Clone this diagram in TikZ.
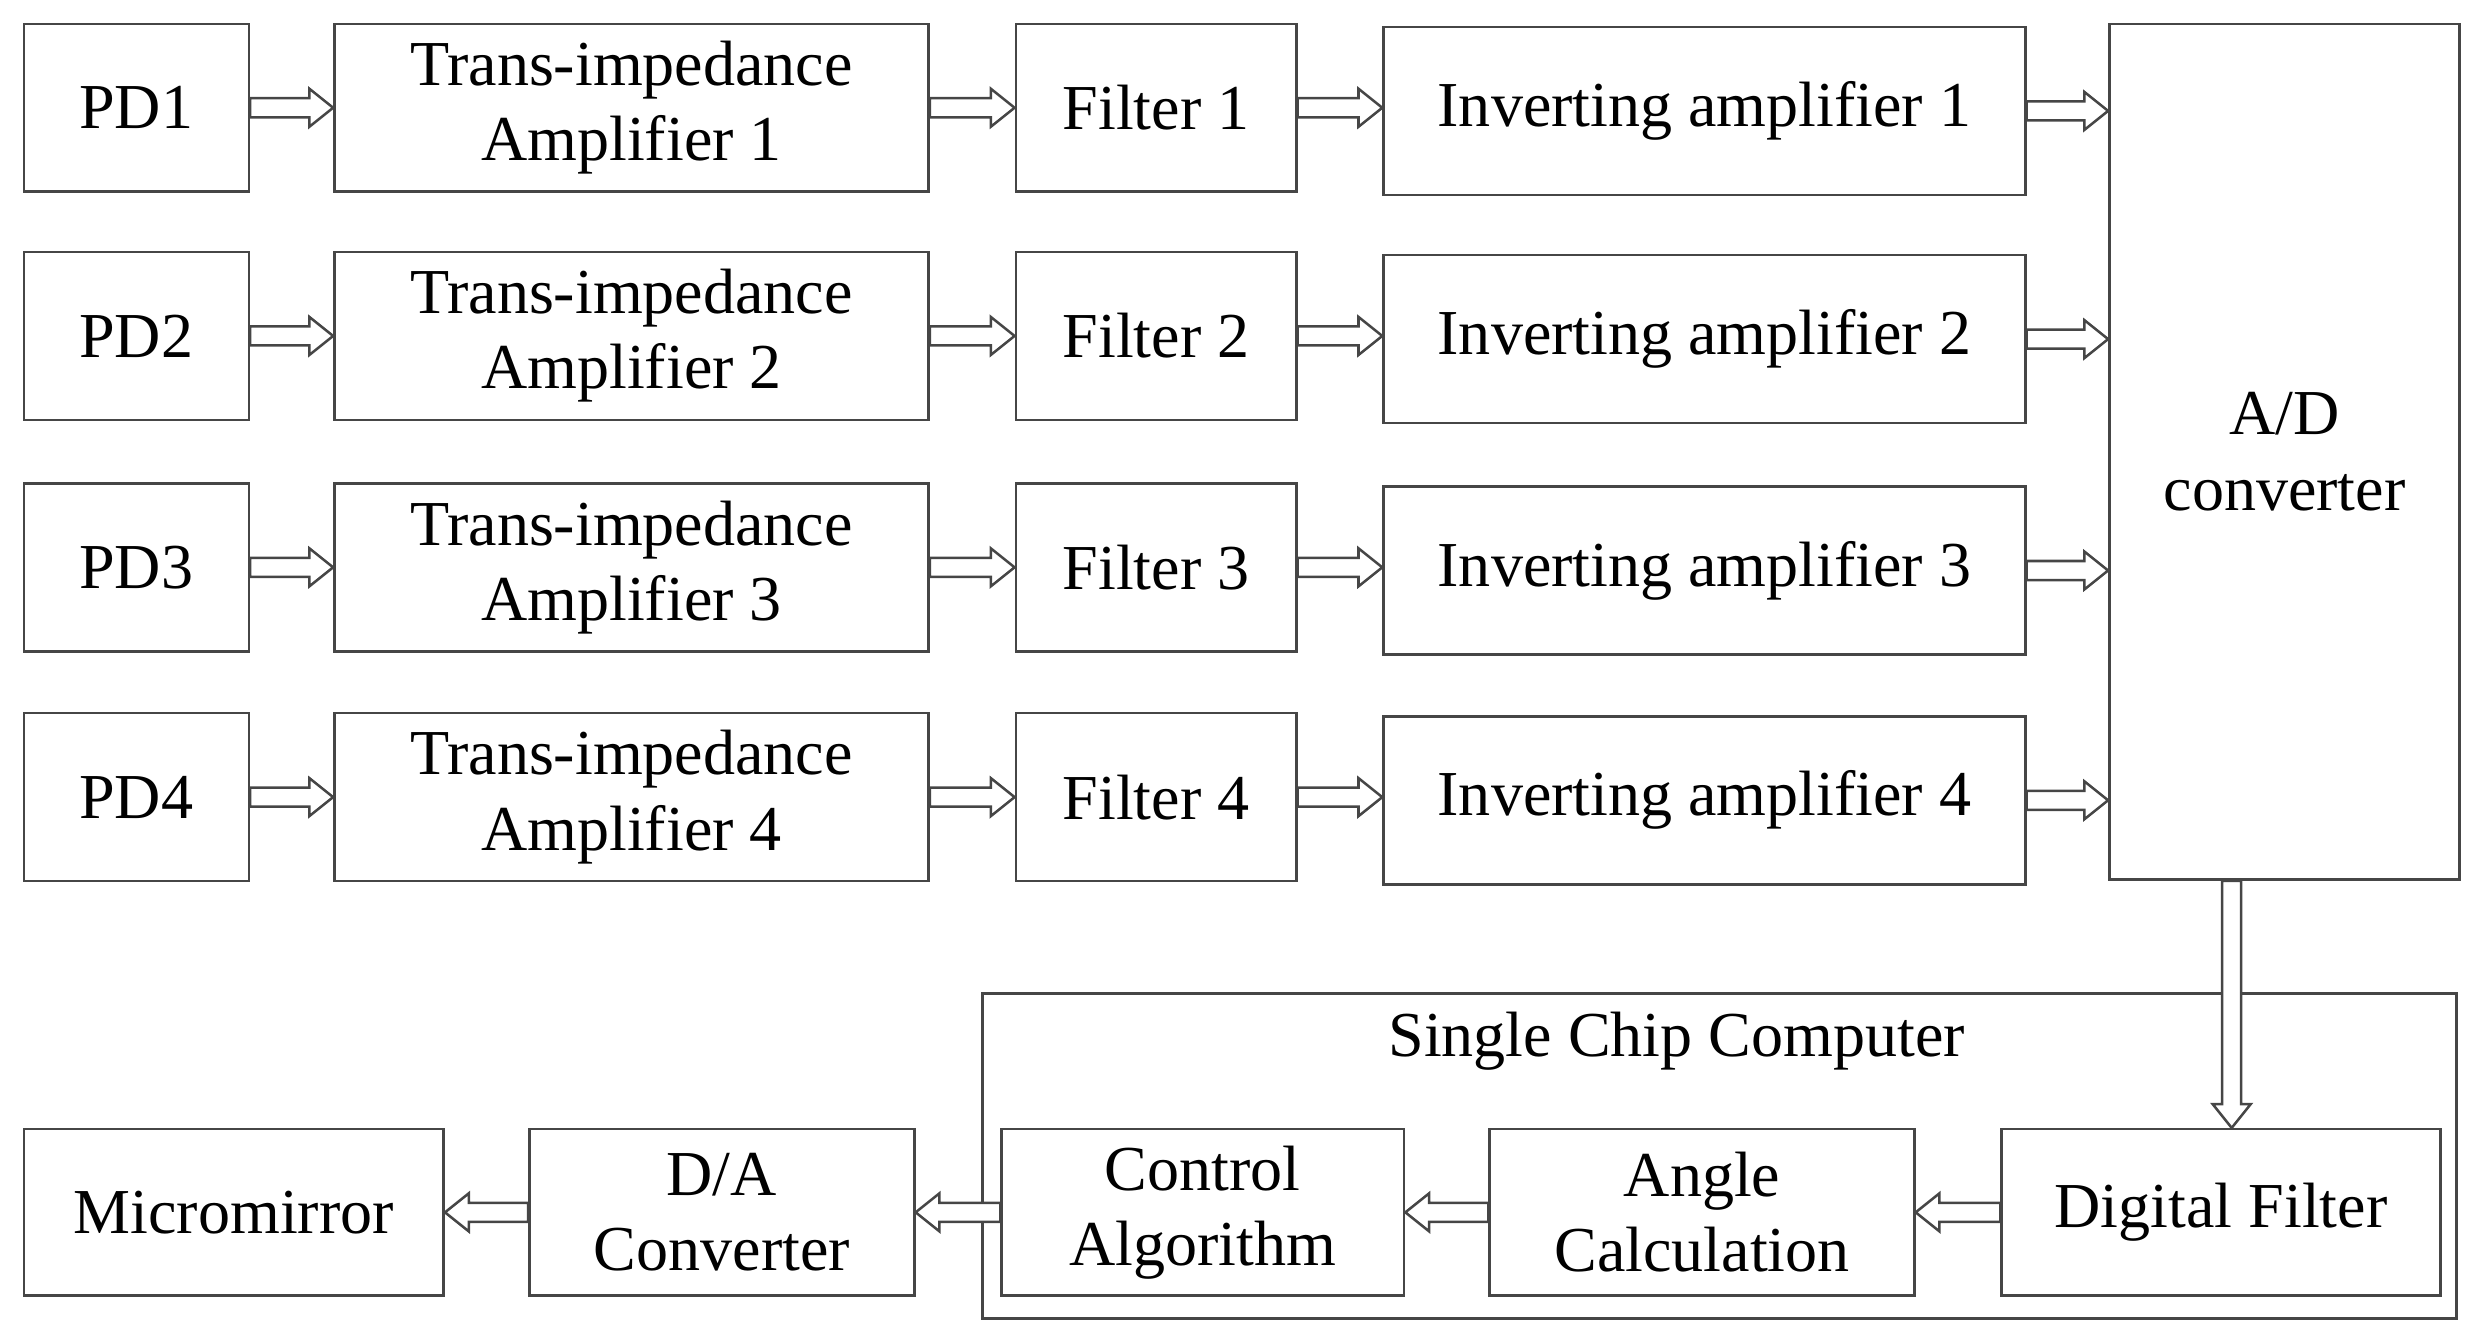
\documentclass[tikz,border=0pt]{standalone}
\usepackage{fontspec}
\setmainfont{Liberation Serif}
\usetikzlibrary{calc}
\definecolor{ln}{RGB}{70,70,70}
\newcommand\arR[2]{\draw[arr] let \p1=(#1),\p2=(#2) in (\x1,\y1+0.6mm) -- (\x2-1.5mm,\y1+0.6mm) -- (\x2-1.5mm,\y1+1.2mm) -- (\x2,\y1) -- (\x2-1.5mm,\y1-1.2mm) -- (\x2-1.5mm,\y1-0.6mm) -- (\x1,\y1-0.6mm) -- cycle;}
\newcommand\arL[2]{\draw[arr] let \p1=(#1),\p2=(#2) in (\x1,\y1+0.6mm) -- (\x2+1.5mm,\y1+0.6mm) -- (\x2+1.5mm,\y1+1.2mm) -- (\x2,\y1) -- (\x2+1.5mm,\y1-1.2mm) -- (\x2+1.5mm,\y1-0.6mm) -- (\x1,\y1-0.6mm) -- cycle;}
\newcommand\arD[2]{\draw[arr] let \p1=(#1),\p2=(#2) in (\x1+0.6mm,\y1) -- (\x1+0.6mm,\y2+1.5mm) -- (\x1+1.2mm,\y2+1.5mm) -- (\x1,\y2) -- (\x1-1.2mm,\y2+1.5mm) -- (\x1-0.6mm,\y2+1.5mm) -- (\x1-0.6mm,\y1) -- cycle;}
\begin{document}
\begin{tikzpicture}[x=0.1mm,y=-0.1mm,
  box/.style={draw=ln,line width=0.45pt,inner sep=0pt,align=center,font=\fontsize{11.5}{13.5}\selectfont},
  arr/.style={draw=ln,line width=0.45pt,fill=white}]
\useasboundingbox (0,0) rectangle (1563,843);
\foreach \i/\y in {1/68,2/212,3/358,4/503}{
  \node[box,minimum width=142*0.1mm,minimum height=106*0.1mm] (pd\i) at (86,\y) {PD\i};
  \node[box,minimum width=375*0.1mm,minimum height=106*0.1mm] (tia\i) at (398.5,\y) {Trans-impedance\\Amplifier \i};
  \node[box,minimum width=177*0.1mm,minimum height=106*0.1mm] (f\i) at (729.5,\y) {Filter \i};
  \node[box,minimum width=405*0.1mm,minimum height=106*0.1mm] (inv\i) at (1075.5,\y+2) {Inverting amplifier \i};
}
\node[box,minimum width=221*0.1mm,minimum height=540*0.1mm] (ad) at (1441.5,285) {A/D\\converter};
\node[box,minimum width=930*0.1mm,minimum height=205*0.1mm] (scc) at (1085,729.5) {};
\node[font=\fontsize{11.5}{13.5}\selectfont] (scct) at (1058,657) {Single Chip Computer};
\node[box,minimum width=265*0.1mm,minimum height=105*0.1mm] (mm) at (147.5,765) {Micromirror};
\node[box,minimum width=243*0.1mm,minimum height=105*0.1mm] (da) at (455.5,765) {D/A\\Converter};
\node[box,minimum width=254*0.1mm,minimum height=105*0.1mm] (ca) at (759,765) {Control\\Algorithm};
\node[box,minimum width=268*0.1mm,minimum height=105*0.1mm] (ac) at (1074,765) {Angle\\Calculation};
\node[box,minimum width=277*0.1mm,minimum height=105*0.1mm] (df) at (1401.5,765) {Digital Filter};
\foreach \i in {1,2,3,4}{
  \arR{pd\i.east}{tia\i.west}
  \arR{tia\i.east}{f\i.west}
  \arR{f\i.east}{inv\i.west}
  \arR{inv\i.east}{inv\i.east -| ad.west}
}
\coordinate (adb) at ($(ad.south west)+(78,0)$);
\arD{adb}{adb |- df.north}
\arL{df.west}{ac.east}
\arL{ac.west}{ca.east}
\arL{ca.west}{da.east}
\arL{da.west}{mm.east}
\end{tikzpicture}
\end{document}
